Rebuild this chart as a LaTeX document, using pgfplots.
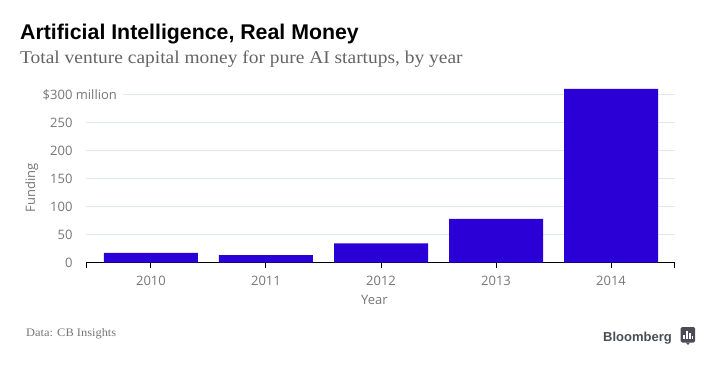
\documentclass[border=0pt]{standalone}
\usepackage{pgfplots}
\pgfplotsset{compat=1.18}
\usepackage{fontspec}
\setmainfont{Open Sans}
\newfontfamily\titlefont{Liberation Sans}
\newfontfamily\subfont[FakeStretch=1.08]{Liberation Serif}
\definecolor{barblue}{HTML}{2A00D6}
\definecolor{gridc}{HTML}{E3E8EA}
\definecolor{ticktxt}{HTML}{767676}
\definecolor{logoc}{HTML}{4A4D55}
\begin{document}
\begin{tikzpicture}[x=1pt,y=1pt]
\path[use as bounding box] (0,0) rectangle (720,370);
\node[anchor=base west,inner sep=0,font=\titlefont\bfseries\fontsize{21.3}{22}\selectfont,text=black] at (20,330) {Artificial Intelligence, Real Money};
\node[anchor=base west,inner sep=0,font=\subfont\fontsize{18}{20}\selectfont,text=ticktxt!85!black] at (20,306) {Total venture capital money for pure AI startups, by year};
\begin{axis}[
  at={(86pt,107.5pt)},anchor=south west,
  scale only axis,width=588.5pt,height=173.6pt,
  xmin=-0.565,xmax=4.552,ymin=0,ymax=310,
  axis x line=bottom,axis y line=left,
  x axis line style={-,black,line width=1pt},
  y axis line style={draw=none},
  xtick={0,1,2,3,4},xticklabels={2010,2011,2012,2013,2014},
  extra x ticks={-0.565,4.552},extra x tick labels={},
  extra x tick style={tick style={black,line width=1pt}},
  x tick style={black,line width=1pt},
  x tick label style={yshift=-5pt},
  ytick={0,50,100,150,200,250,300},
  yticklabels={0,50,100,150,200,250,{\llap{\$300}\rlap{ million}}},
  y tick style={draw=none},
  tick label style={font=\fontsize{13}{14}\selectfont,text=ticktxt},
  /pgf/number format/assume math mode=true,
  major tick length=5pt,
  tick align=outside,
  y tick label style={xshift=-5pt},
  xlabel={Year},ylabel={Funding},
  label style={font=\fontsize{13}{14}\selectfont,text=ticktxt},
  xlabel style={at={(axis description cs:0.49,-0.215)},anchor=center},
  ylabel style={at={(axis description cs:-0.092,0.43)},anchor=center},
  ybar,bar width=94pt,
  clip=false,
]
\foreach \v in {50,100,150,200,250}{
  \edef\tmp{\noexpand\addplot[ybar=0pt,sharp plot,gridc,line width=0.8pt,forget plot] coordinates {(-0.565,\v) (4.552,\v)};}\tmp
}
\addplot[sharp plot,gridc,line width=0.8pt,forget plot] coordinates {(-0.243,300) (4.552,300)};
\addplot[fill=barblue,draw=none] coordinates {(0,17) (1,13) (2,34) (3,78) (4,310)};
\end{axis}
\node[anchor=base west,inner sep=0,font=\subfont\fontsize{11.5}{13}\selectfont,text=ticktxt] at (26,34) {Data: CB Insights};
\node[anchor=base east,inner sep=0,font=\titlefont\bfseries\fontsize{13}{15}\selectfont,text=logoc] at (672,29) {Bloomberg};
\fill[logoc,rounded corners=1.5pt] (680.5,27.5) rectangle (695,43);
\fill[logoc] (685.5,27.5) -- (690,27.5) -- (688,25) -- cycle;
\fill[white] (683,31) rectangle (684.5,35.5);
\fill[white] (686,31) rectangle (687.5,39);
\fill[white] (689,31) rectangle (690.5,37);
\fill[white] (692,31) rectangle (693,34);
\end{tikzpicture}
\end{document}
